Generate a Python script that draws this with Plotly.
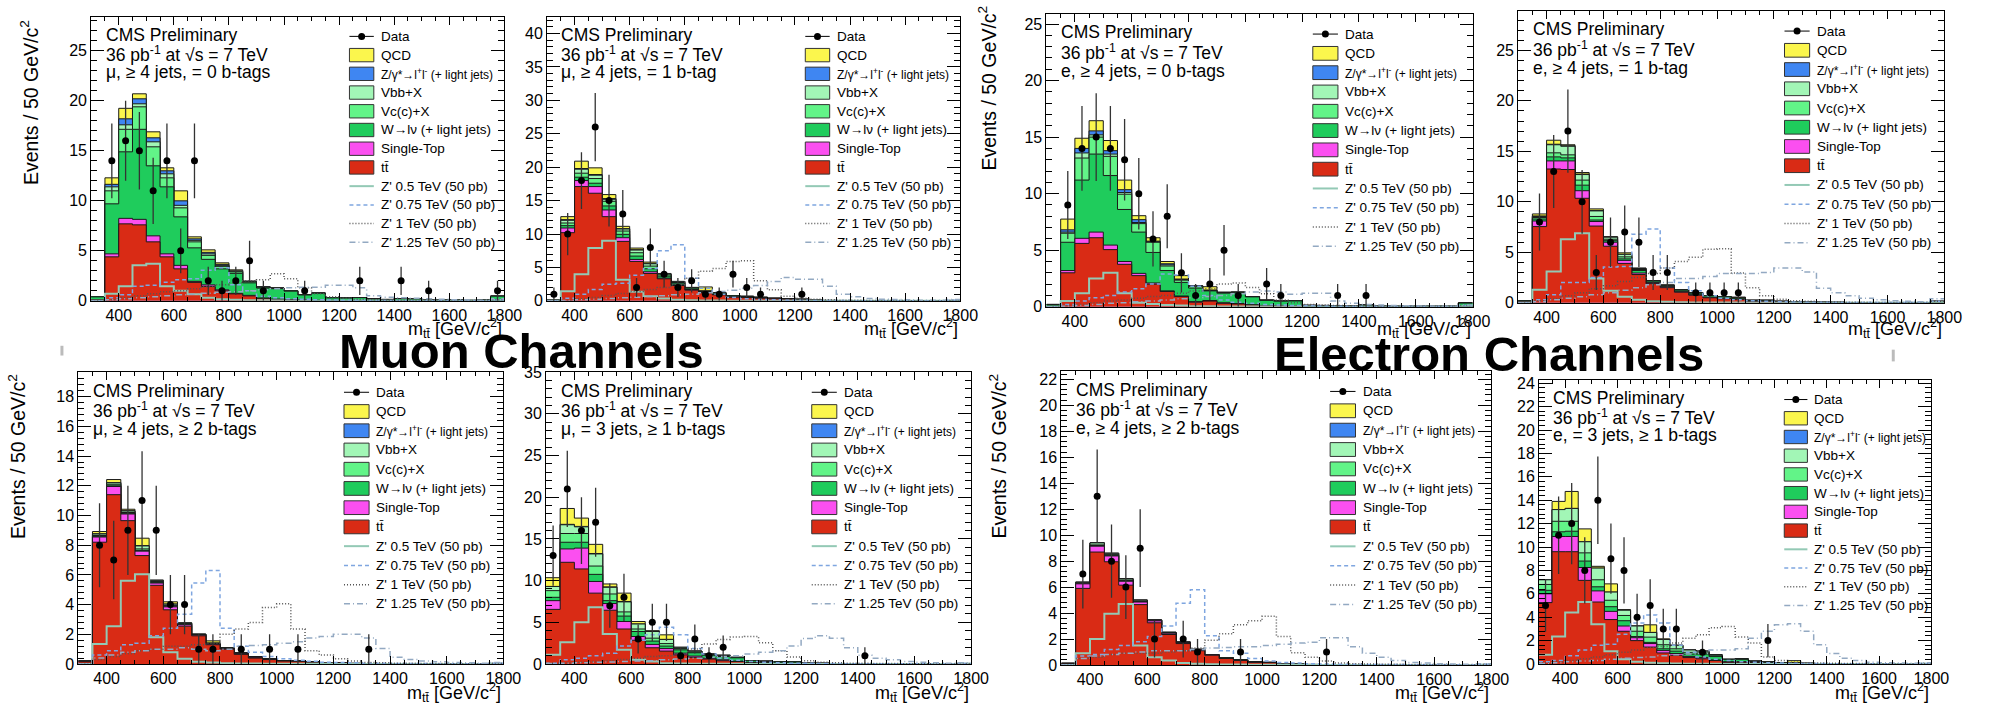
import math
import numpy as np
import plotly.graph_objects as go

# ---------------- binning ----------------
bin_edges = list(range(300, 1801, 50))            # 31 edges, 30 bins of 50 GeV
bin_centers = [e + 25 for e in bin_edges[:-1]]

# ---------------- panel 1 : mu, >=4 jets, =0 b-tags ----------------
mu0b_tt = [0.1, 4.4, 7.7, 7.6, 5.9, 4.4, 3.2, 1.85, 1.45, 1.0, 0.7, 0.5, 0.25, 0.15, 0.1, 0.08, 0.05, 0.04, 0.03, 0.03, 0.02, 0.02, 0.02, 0.01, 0.01, 0.01, 0.01, 0.01, 0.01, 0.02]
mu0b_st = [0.0, 0.3, 0.55, 0.55, 0.6, 0.3, 0.35, 0.1, 0.15, 0.1, 0.05, 0.05, 0.03, 0.02, 0.02, 0.01, 0.01, 0.01, 0, 0, 0, 0, 0, 0, 0, 0, 0, 0, 0, 0]
mu0b_wj = [0.3, 5.0, 6.65, 9.0, 7.0, 6.7, 4.85, 3.35, 2.55, 2.1, 2.0, 1.25, 1.0, 1.05, 0.85, 0.5, 0.7, 0.25, 0.25, 0.3, 0.17, 0.12, 0.2, 0.17, 0.08, 0.08, 0.08, 0.04, 0.08, 0.45]
mu0b_vc = [0, 1.3, 2.25, 2.25, 1.9, 0.9, 0.9, 0.6, 0.4, 0.25, 0.15, 0.1, 0.08, 0.05, 0.03, 0.02, 0.02, 0.01, 0, 0, 0, 0, 0, 0, 0, 0, 0, 0, 0, 0]
mu0b_vbb = [0, 0.4, 0.45, 0.3, 0.5, 0.4, 0.25, 0.15, 0.15, 0.1, 0.05, 0.03, 0.02, 0.01, 0, 0, 0, 0, 0, 0, 0, 0, 0, 0, 0, 0, 0, 0, 0, 0]
mu0b_zj = [0, 0.25, 0.6, 0.5, 0.4, 0.3, 0.45, 0.15, 0.15, 0.1, 0.05, 0.03, 0.02, 0.01, 0, 0, 0, 0, 0, 0, 0, 0, 0, 0, 0, 0, 0, 0, 0, 0]
mu0b_qcd = [0, 0.65, 1.05, 0.5, 0.6, 0.3, 1.0, 0.2, 0.25, 0.15, 0.1, 0.02, 0, 0, 0, 0, 0, 0, 0, 0, 0, 0, 0, 0, 0, 0, 0, 0, 0, 0]
mu0b_data = [0, 14, 16, 15, 11, 14, 5, 14, 2, 1, 2, 4, 1, 0, 0, 1, 0, 0, 0, 2, 0, 0, 2, 0, 1, 0, 0, 0, 0, 1]
mu0b_z05 = [0, 0.7, 1.45, 3.55, 3.7, 1.45, 1.0, 0.65, 0.3, 0.15, 0.1, 0.05, 0.05, 0.03, 0.02, 0.02, 0.01, 0.01, 0.01, 0.01, 0, 0, 0, 0, 0, 0, 0, 0, 0, 0.05]
mu0b_z075 = [0, 0.3, 0.6, 1.45, 1.55, 1.85, 2.1, 2.2, 3.05, 3.3, 1.6, 1.0, 0.45, 0.3, 0.2, 0.15, 0.1, 0.08, 0.06, 0.05, 0.04, 0.03, 0.03, 0.02, 0.02, 0.02, 0.02, 0.01, 0.01, 0.1]
mu0b_z1 = [0, 0.1, 0.3, 0.5, 0.7, 0.9, 1.0, 1.2, 1.4, 1.6, 1.8, 2.0, 2.1, 2.7, 2.2, 1.3, 0.7, 0.4, 0.25, 0.15, 0.1, 0.07, 0.05, 0.04, 0.03, 0.02, 0.02, 0.02, 0.01, 0.1]
mu0b_z125 = [0, 0.1, 0.2, 0.3, 0.4, 0.5, 0.6, 0.65, 0.75, 0.85, 0.9, 1.0, 1.1, 1.2, 1.3, 1.35, 1.35, 1.55, 1.55, 1.3, 0.5, 0.35, 0.3, 0.25, 0.2, 0.15, 0.1, 0.08, 0.06, 0.2]

# ---------------- panel 2 : mu, >=4 jets, =1 b-tag ----------------
mu1b_tt = [0.1, 10.2, 17.1, 16.1, 12.6, 8.9, 5.9, 4.1, 3.3, 2.3, 1.6, 1.2, 0.9, 0.55, 0.5, 0.4, 0.3, 0.25, 0.2, 0.08, 0.05, 0.04, 0.03, 0.03, 0.02, 0.02, 0.02, 0.01, 0.01, 0.02]
mu1b_st = [0, 0.7, 0.9, 1.0, 1.0, 0.55, 0.3, 0.25, 0.1, 0.1, 0.1, 0.05, 0.05, 0.05, 0.03, 0.02, 0.02, 0.01, 0.01, 0, 0, 0, 0, 0, 0, 0, 0, 0, 0, 0]
mu1b_wj = [0, 0.35, 0.5, 0.5, 0.6, 0.5, 0.5, 0.45, 0.3, 0.25, 0.2, 0.15, 0.2, 0.15, 0.12, 0.1, 0.06, 0.03, 0.03, 0.02, 0.01, 0.01, 0.01, 0.01, 0, 0, 0, 0, 0, 0.02]
mu1b_vc = [0, 0.4, 0.6, 0.7, 0.7, 0.5, 0.5, 0.4, 0.2, 0.1, 0.05, 0.05, 0.02, 0.02, 0.02, 0.01, 0.01, 0, 0, 0, 0, 0, 0, 0, 0, 0, 0, 0, 0, 0]
mu1b_vbb = [0, 0.4, 0.6, 0.5, 0.3, 0.3, 0.4, 0.35, 0.15, 0.1, 0.05, 0.02, 0.02, 0.01, 0.01, 0, 0, 0, 0, 0, 0, 0, 0, 0, 0, 0, 0, 0, 0, 0]
mu1b_zj = [0, 0.1, 0.1, 0.1, 0.1, 0.05, 0.05, 0.05, 0.02, 0.02, 0.01, 0.01, 0, 0, 0, 0, 0, 0, 0, 0, 0, 0, 0, 0, 0, 0, 0, 0, 0, 0]
mu1b_qcd = [0, 0.45, 1.1, 1.0, 0.6, 0.35, 0.25, 0.2, 0.03, 0.05, 0.0, 0.6, 0.05, 0, 0, 0, 0, 0, 0, 0, 0, 0, 0, 0, 0, 0, 0, 0, 0, 0]
mu1b_data = [1, 10, 18, 26, 15, 13, 2, 8, 4, 2, 3, 1, 1, 4, 2, 1, 0, 0, 1, 0, 0, 0, 0, 0, 0, 0, 0, 0, 0, 0]
mu1b_z05 = [0, 1.45, 4.0, 7.9, 9.0, 3.15, 1.35, 0.7, 0.35, 0.15, 0.1, 0.06, 0.04, 0.03, 0.02, 0.02, 0.01, 0.01, 0.01, 0.01, 0, 0, 0, 0, 0, 0, 0, 0, 0, 0.03]
mu1b_z075 = [0, 0.4, 1.0, 1.7, 2.5, 2.65, 3.85, 4.85, 7.5, 8.4, 3.4, 1.9, 1.0, 0.5, 0.3, 0.2, 0.15, 0.1, 0.08, 0.06, 0.05, 0.04, 0.03, 0.03, 0.02, 0.02, 0.02, 0.01, 0.01, 0.1]
mu1b_z1 = [0, 0.1, 0.3, 0.5, 0.8, 1.1, 1.4, 1.7, 2.0, 2.4, 3.4, 4.45, 4.85, 5.9, 6.0, 3.0, 1.65, 0.7, 0.4, 0.25, 0.15, 0.1, 0.08, 0.06, 0.05, 0.04, 0.03, 0.02, 0.02, 0.1]
mu1b_z125 = [0, 0.05, 0.15, 0.25, 0.35, 0.45, 0.55, 0.65, 0.75, 0.9, 1.0, 1.2, 1.4, 1.6, 1.9, 2.3, 2.9, 3.5, 3.25, 3.25, 2.2, 1.0, 0.6, 0.35, 0.25, 0.2, 0.15, 0.1, 0.08, 0.2]

# ---------------- panel 3 : e, >=4 jets, =0 b-tags ----------------
e0b_tt = [0.05, 3.0, 5.6, 6.1, 5.05, 3.75, 2.75, 2.0, 1.35, 0.9, 0.4, 0.5, 0.3, 0.25, 0.15, 0.1, 0.08, 0.06, 0.04, 0.03, 0.02, 0.02, 0.02, 0.01, 0.01, 0.01, 0.01, 0.01, 0.01, 0.02]
e0b_st = [0, 0.2, 0.45, 0.5, 0.4, 0.25, 0.2, 0.1, 0.05, 0.05, 0.05, 0.05, 0.05, 0.03, 0.02, 0.01, 0.01, 0, 0, 0, 0, 0, 0, 0, 0, 0, 0, 0, 0, 0]
e0b_wj = [0.15, 2.5, 5.15, 6.9, 6.15, 4.6, 3.65, 2.7, 1.8, 1.2, 1.2, 0.85, 0.85, 0.95, 0.7, 0.45, 0.4, 0.45, 0.08, 0.08, 0.08, 0.04, 0.12, 0.04, 0.03, 0.03, 0.03, 0.03, 0.03, 0.3]
e0b_vc = [0, 0.8, 1.95, 1.5, 1.7, 1.35, 0.75, 0.9, 0.4, 0.2, 0.15, 0.03, 0.05, 0.05, 0.03, 0.02, 0.01, 0.01, 0, 0, 0, 0, 0, 0, 0, 0, 0, 0, 0, 0]
e0b_vbb = [0, 0.1, 0.45, 0.2, 0.2, 0.15, 0.1, 0.05, 0.1, 0.05, 0.03, 0.02, 0.01, 0, 0, 0, 0, 0, 0, 0, 0, 0, 0, 0, 0, 0, 0, 0, 0, 0]
e0b_zj = [0, 0.2, 0.4, 0.35, 0.3, 0.25, 0.25, 0.05, 0.1, 0.05, 0.02, 0.02, 0.02, 0.01, 0, 0, 0, 0, 0, 0, 0, 0, 0, 0, 0, 0, 0, 0, 0, 0]
e0b_qcd = [0, 0.95, 0.9, 0.9, 0.9, 0.85, 0.35, 0.3, 0.2, 0.3, 0.0, 0.3, 0.0, 0.01, 0, 0, 0, 0, 0, 0, 0, 0, 0, 0, 0, 0, 0, 0, 0, 0.05]
e0b_data = [0, 9, 14, 15, 14, 13, 10, 6, 8, 3, 1, 2, 5, 1, 0, 2, 1, 0, 0, 0, 1, 0, 1, 0, 0, 0, 0, 0, 0, 0]
e0b_z05 = [0, 0.5, 1.2, 2.5, 3.0, 1.2, 0.35, 0.25, 0.15, 0.1, 0.05, 0.04, 0.03, 0.02, 0.02, 0.01, 0.01, 0.01, 0.01, 0, 0, 0, 0, 0, 0, 0, 0, 0, 0, 0.05]
e0b_z075 = [0, 0.2, 0.5, 0.8, 1.0, 1.3, 1.6, 2.0, 2.9, 2.8, 1.8, 1.0, 0.6, 0.4, 0.3, 0.2, 0.15, 0.1, 0.08, 0.06, 0.05, 0.04, 0.03, 0.03, 0.02, 0.02, 0.02, 0.01, 0.01, 0.1]
e0b_z1 = [0, 0.1, 0.2, 0.35, 0.5, 0.6, 0.75, 0.9, 1.0, 1.2, 1.4, 1.6, 2.0, 2.1, 1.7, 1.15, 0.6, 0.35, 0.2, 0.15, 0.1, 0.08, 0.06, 0.05, 0.04, 0.03, 0.02, 0.02, 0.02, 0.1]
e0b_z125 = [0, 0.05, 0.1, 0.2, 0.3, 0.35, 0.45, 0.5, 0.6, 0.7, 0.8, 0.9, 1.0, 1.15, 1.3, 1.4, 1.3, 1.1, 1.2, 1.2, 0.5, 0.3, 0.2, 0.15, 0.1, 0.08, 0.06, 0.05, 0.04, 0.15]

# ---------------- panel 4 : e, >=4 jets, =1 b-tag ----------------
e1b_tt = [0.1, 7.55, 13.25, 13.2, 10.35, 7.6, 5.6, 3.9, 2.8, 1.9, 1.5, 1.05, 0.75, 0.5, 0.4, 0.35, 0.15, 0.15, 0.1, 0.07, 0.05, 0.04, 0.03, 0.02, 0.02, 0.02, 0.01, 0.01, 0.01, 0.05]
e1b_st = [0.05, 0.55, 0.8, 0.85, 0.75, 0.45, 0.4, 0.3, 0.15, 0.1, 0.1, 0.05, 0.05, 0.05, 0.05, 0.02, 0.02, 0.02, 0.01, 0, 0, 0, 0, 0, 0, 0, 0, 0, 0, 0]
e1b_wj = [0.05, 0.2, 0.4, 0.3, 0.55, 0.15, 0.15, 0.15, 0.25, 0.15, 0.1, 0.15, 0.15, 0.15, 0.15, 0.1, 0.08, 0.08, 0.04, 0.03, 0.02, 0.02, 0.02, 0.01, 0.01, 0.01, 0.01, 0.01, 0.01, 0.1]
e1b_vc = [0, 0.15, 0.4, 0.3, 0.5, 0.35, 0.15, 0.2, 0.1, 0.05, 0.05, 0.05, 0.05, 0, 0, 0, 0, 0, 0, 0, 0, 0, 0, 0, 0, 0, 0, 0, 0, 0]
e1b_vbb = [0, 0.1, 0.8, 0.85, 0.55, 0.55, 0.2, 0.25, 0.1, 0.0, 0, 0, 0, 0, 0, 0, 0, 0, 0, 0, 0, 0, 0, 0, 0, 0, 0, 0, 0, 0]
e1b_zj = [0, 0.05, 0.05, 0.05, 0.05, 0.05, 0, 0, 0, 0, 0, 0, 0, 0, 0, 0, 0, 0, 0, 0, 0, 0, 0, 0, 0, 0, 0, 0, 0, 0]
e1b_qcd = [0, 0.2, 0.4, 0.1, 0.15, 0.15, 0.05, 0.15, 0.05, 0, 0, 0, 0, 0, 0, 0.1, 0, 0, 0, 0, 0, 0, 0, 0, 0, 0, 0, 0, 0, 0]
e1b_data = [0, 8, 13, 17, 10, 3, 6, 7, 6, 3, 3, 0, 1, 1, 1, 1, 0, 0, 0, 0, 0, 0, 0, 0, 0, 0, 0, 0, 0, 0]
e1b_z05 = [0, 1.3, 3.1, 6.3, 6.9, 2.4, 1.2, 0.6, 0.3, 0.15, 0.1, 0.06, 0.04, 0.03, 0.02, 0.02, 0.01, 0.01, 0.01, 0, 0, 0, 0, 0, 0, 0, 0, 0, 0, 0.05]
e1b_z075 = [0, 0.3, 0.8, 2.0, 2.0, 2.5, 3.55, 3.6, 6.8, 7.3, 3.45, 2.0, 1.2, 0.7, 0.45, 0.3, 0.2, 0.15, 0.1, 0.08, 0.06, 0.05, 0.04, 0.03, 0.03, 0.02, 0.02, 0.02, 0.01, 0.15]
e1b_z1 = [0, 0.2, 0.4, 0.7, 1.0, 1.4, 1.7, 2.1, 2.5, 2.9, 3.45, 4.1, 4.5, 5.3, 5.35, 2.95, 1.5, 0.7, 0.35, 0.2, 0.15, 0.1, 0.08, 0.06, 0.05, 0.04, 0.03, 0.02, 0.02, 0.15]
e1b_z125 = [0, 0.1, 0.3, 0.45, 0.6, 0.8, 1.0, 1.25, 1.5, 1.8, 2.0, 2.4, 2.4, 2.6, 2.9, 2.9, 2.9, 3.0, 3.45, 3.45, 3.05, 1.45, 1.0, 0.7, 0.45, 0.3, 0.2, 0.15, 0.1, 0.4]

# ---------------- panel 5 : mu, >=4 jets, >=2 b-tags ----------------
mu2b_tt = [0.15, 8.2, 11.4, 9.65, 7.3, 5.3, 3.65, 2.55, 1.9, 1.3, 1.0, 0.65, 0.4, 0.3, 0.2, 0.18, 0.12, 0.08, 0.08, 0.04, 0.02, 0.02, 0.02, 0.01, 0.01, 0.01, 0.01, 0.01, 0.01, 0.02]
mu2b_st = [0.03, 0.35, 0.55, 0.45, 0.3, 0.15, 0.2, 0.1, 0.05, 0.05, 0.05, 0.05, 0.05, 0.03, 0.01, 0.01, 0.01, 0, 0, 0, 0, 0, 0, 0, 0, 0, 0, 0, 0, 0]
mu2b_wj = [0.02, 0.05, 0.05, 0.05, 0.05, 0.05, 0.05, 0.05, 0.03, 0.03, 0.03, 0.03, 0.03, 0.01, 0.01, 0.01, 0.01, 0.01, 0.01, 0, 0, 0, 0, 0, 0, 0, 0, 0, 0, 0]
mu2b_vc = [0, 0.05, 0.1, 0.05, 0.1, 0.05, 0.03, 0.02, 0.01, 0.01, 0.01, 0.01, 0, 0, 0, 0, 0, 0, 0, 0, 0, 0, 0, 0, 0, 0, 0, 0, 0, 0]
mu2b_vbb = [0, 0.1, 0.1, 0.1, 0.2, 0.05, 0.1, 0.05, 0.02, 0.02, 0.01, 0.01, 0, 0, 0, 0, 0, 0, 0, 0, 0, 0, 0, 0, 0, 0, 0, 0, 0, 0]
mu2b_zj = [0, 0.02, 0.02, 0.02, 0.02, 0.01, 0.01, 0, 0, 0, 0, 0, 0, 0, 0, 0, 0, 0, 0, 0, 0, 0, 0, 0, 0, 0, 0, 0, 0, 0]
mu2b_qcd = [0, 0.15, 0.2, 0.1, 0.5, 0.05, 0.15, 0.0, 0.0, 0.15, 0, 0, 0, 0, 0, 0, 0, 0, 0, 0, 0, 0, 0, 0, 0, 0, 0, 0, 0, 0]
mu2b_data = [0, 8, 7, 9, 11, 9, 4, 4, 1, 1, 0, 1, 0, 1, 0, 1, 0, 0, 0, 0, 1, 0, 0, 0, 0, 0, 0, 0, 0, 0]
mu2b_z05 = [0, 1.35, 2.55, 5.6, 6.05, 1.8, 0.8, 0.35, 0.15, 0.1, 0.06, 0.04, 0.03, 0.02, 0.02, 0.01, 0.01, 0.01, 0, 0, 0, 0, 0, 0, 0, 0, 0, 0, 0, 0.02]
mu2b_z075 = [0, 0.6, 0.9, 1.3, 1.4, 1.9, 2.4, 3.35, 5.45, 6.3, 2.4, 1.2, 0.8, 0.5, 0.35, 0.25, 0.18, 0.12, 0.1, 0.08, 0.06, 0.05, 0.04, 0.03, 0.03, 0.02, 0.02, 0.02, 0.01, 0.05]
mu2b_z1 = [0, 0.3, 0.5, 0.7, 0.9, 1.0, 1.2, 1.2, 1.3, 1.4, 2.0, 2.35, 2.8, 3.8, 4.05, 2.35, 0.9, 0.6, 0.35, 0.2, 0.1, 0.08, 0.06, 0.05, 0.04, 0.03, 0.02, 0.02, 0.02, 0.05]
mu2b_z125 = [0, 0.4, 0.6, 0.8, 0.9, 1.0, 1.0, 1.1, 1.0, 0.9, 1.0, 1.2, 1.25, 1.3, 1.4, 1.5, 1.75, 1.85, 2.0, 2.0, 1.75, 1.05, 0.45, 0.3, 0.2, 0.15, 0.1, 0.08, 0.06, 0.1]

# ---------------- panel 6 : mu, =3 jets, >=1 b-tags ----------------
mu3j_tt = [6.55, 12.2, 11.4, 8.5, 6.45, 4.2, 2.85, 1.95, 1.55, 1.1, 0.8, 0.6, 0.4, 0.3, 0.15, 0.12, 0.1, 0.1, 0.04, 0.04, 0.02, 0.01, 0.01, 0.01, 0.01, 0.01, 0.01, 0.01, 0.01, 0.01]
mu3j_st = [1.05, 1.6, 2.5, 1.4, 0.8, 0.9, 0.45, 0.4, 0.3, 0.2, 0.15, 0.1, 0.1, 0.05, 0.05, 0.03, 0.02, 0.02, 0.01, 0, 0, 0, 0, 0, 0, 0, 0, 0, 0, 0]
mu3j_wj = [0.4, 0.8, 0.7, 0.85, 0.35, 0.65, 0.6, 0.4, 0.3, 0.4, 0.4, 0.35, 0.4, 0.4, 0.2, 0.15, 0.15, 0.15, 0.05, 0.05, 0.02, 0.02, 0.02, 0.01, 0.01, 0.01, 0.01, 0.01, 0.01, 0.02]
mu3j_vc = [0.8, 1.05, 1.05, 1.0, 0.8, 0.5, 0.3, 0.35, 0.3, 0.15, 0.1, 0.1, 0.1, 0.05, 0.0, 0.03, 0.02, 0.02, 0, 0, 0, 0, 0, 0, 0, 0, 0, 0, 0, 0]
mu3j_vbb = [0.5, 1.05, 0.8, 1.45, 0.8, 1.2, 0.6, 0.8, 0.5, 0.15, 0.1, 0.05, 0.05, 0.0, 0, 0.02, 0.01, 0.01, 0, 0, 0, 0, 0, 0, 0, 0, 0, 0, 0, 0]
mu3j_zj = [0.0, 0.05, 0.05, 0.05, 0.05, 0.05, 0, 0, 0, 0, 0, 0, 0, 0, 0, 0, 0, 0, 0, 0, 0, 0, 0, 0, 0, 0, 0, 0, 0, 0]
mu3j_qcd = [1.05, 1.9, 1.0, 1.1, 0.35, 1.0, 0.3, 0.1, 0.55, 0.0, 0, 0, 0, 0, 0, 0, 0, 0, 0, 0, 0, 0, 0, 0, 0, 0, 0, 0, 0, 0]
mu3j_data = [13, 21, 16, 17, 7, 8, 3, 5, 5, 1, 3, 1, 2, 0, 0, 0, 0, 0, 0, 0, 0, 0, 1, 0, 0, 0, 0, 0, 0, 0]
mu3j_z05 = [1.1, 2.6, 5.0, 6.8, 3.6, 1.7, 0.5, 0.3, 0.1, 0.06, 0.04, 0.03, 0.02, 0.02, 0.01, 0.01, 0, 0, 0, 0, 0, 0, 0, 0, 0, 0, 0, 0, 0, 0.02]
mu3j_z075 = [0.1, 0.5, 0.7, 1.0, 1.3, 2.15, 2.85, 3.5, 4.4, 3.5, 1.85, 1.2, 0.7, 0.45, 0.3, 0.2, 0.15, 0.1, 0.08, 0.06, 0.05, 0.04, 0.03, 0.03, 0.02, 0.02, 0.02, 0.01, 0.01, 0.05]
mu3j_z1 = [0.1, 0.15, 0.2, 0.3, 0.4, 0.55, 0.7, 0.9, 1.0, 1.3, 1.8, 2.4, 2.95, 3.25, 3.3, 2.55, 1.6, 0.85, 0.4, 0.2, 0.15, 0.1, 0.08, 0.06, 0.05, 0.04, 0.03, 0.02, 0.02, 0.05]
mu3j_z125 = [0.05, 0.1, 0.15, 0.2, 0.25, 0.3, 0.35, 0.4, 0.5, 0.6, 0.7, 0.8, 0.9, 1.0, 1.2, 1.4, 1.6, 2.15, 3.05, 3.4, 3.1, 1.95, 1.05, 0.7, 0.5, 0.3, 0.2, 0.15, 0.1, 0.15]

# ---------------- panel 7 : e, >=4 jets, >=2 b-tags ----------------
e2b_tt = [0.1, 5.9, 8.7, 7.95, 6.15, 4.65, 3.25, 2.35, 1.65, 1.1, 0.75, 0.5, 0.35, 0.2, 0.18, 0.1, 0.08, 0.04, 0.03, 0.02, 0.02, 0.01, 0.01, 0.01, 0.01, 0.01, 0.01, 0.01, 0.01, 0.02]
e2b_st = [0.02, 0.35, 0.45, 0.45, 0.3, 0.2, 0.15, 0.1, 0.07, 0.07, 0.04, 0.04, 0.04, 0.04, 0.02, 0, 0, 0, 0, 0, 0, 0, 0, 0, 0, 0, 0, 0, 0, 0]
e2b_wj = [0.01, 0.02, 0.05, 0.05, 0.05, 0.05, 0.03, 0.03, 0.02, 0.02, 0.01, 0.01, 0.01, 0.01, 0, 0, 0, 0, 0, 0, 0, 0, 0, 0, 0, 0, 0, 0, 0, 0]
e2b_vc = [0, 0.05, 0.05, 0.05, 0.05, 0.03, 0.02, 0.02, 0.01, 0.01, 0, 0, 0, 0, 0, 0, 0, 0, 0, 0, 0, 0, 0, 0, 0, 0, 0, 0, 0, 0]
e2b_vbb = [0, 0.05, 0.15, 0.1, 0.1, 0.07, 0.02, 0.02, 0.02, 0.01, 0, 0, 0, 0, 0, 0, 0, 0, 0, 0, 0, 0, 0, 0, 0, 0, 0, 0, 0, 0]
e2b_zj = [0, 0.01, 0.01, 0.01, 0.01, 0, 0, 0, 0, 0, 0, 0, 0, 0, 0, 0, 0, 0, 0, 0, 0, 0, 0, 0, 0, 0, 0, 0, 0, 0]
e2b_qcd = [0, 0, 0, 0, 0, 0, 0, 0, 0, 0, 0, 0, 0, 0, 0, 0, 0, 0, 0, 0, 0, 0, 0, 0, 0, 0, 0, 0, 0, 0]
e2b_data = [0, 7, 13, 8, 6, 9, 2, 0, 2, 1, 0, 0, 1, 0, 0, 0, 0, 0, 1, 0, 0, 0, 0, 0, 0, 0, 0, 0, 0, 0]
e2b_z05 = [0, 0.9, 2.0, 3.95, 4.7, 1.5, 0.6, 0.35, 0.15, 0.1, 0.05, 0.04, 0.03, 0.02, 0.02, 0.01, 0.01, 0, 0, 0, 0, 0, 0, 0, 0, 0, 0, 0, 0, 0.02]
e2b_z075 = [0, 0.7, 0.8, 1.2, 1.5, 1.8, 2.2, 3.0, 4.75, 5.8, 2.25, 1.1, 0.9, 0.5, 0.3, 0.2, 0.15, 0.1, 0.08, 0.06, 0.05, 0.04, 0.03, 0.03, 0.02, 0.02, 0.02, 0.01, 0.01, 0.05]
e2b_z1 = [0, 0.5, 0.6, 0.8, 0.9, 0.9, 0.9, 1.0, 1.1, 1.3, 1.9, 2.4, 3.1, 3.4, 3.75, 2.2, 0.95, 0.6, 0.3, 0.15, 0.1, 0.08, 0.06, 0.05, 0.04, 0.03, 0.03, 0.02, 0.02, 0.05]
e2b_z125 = [0, 0.5, 0.7, 0.8, 0.9, 1.0, 1.1, 1.1, 1.1, 1.2, 1.3, 1.35, 1.4, 1.4, 1.5, 1.6, 1.7, 1.75, 2.1, 2.1, 1.4, 0.9, 0.6, 0.35, 0.2, 0.15, 0.1, 0.08, 0.06, 0.1]

# ---------------- panel 8 : e, =3 jets, >=1 b-tags ----------------
e3j_tt = [5.25, 9.6, 9.6, 7.15, 5.3, 3.8, 2.8, 2.0, 1.45, 0.95, 0.75, 0.55, 0.45, 0.3, 0.15, 0.15, 0.1, 0.08, 0.05, 0.05, 0.03, 0.02, 0.02, 0.01, 0.01, 0.01, 0.01, 0.01, 0.01, 0.01]
e3j_st = [0.75, 1.3, 1.3, 1.1, 0.95, 0.7, 0.45, 0.25, 0.3, 0.2, 0.15, 0.1, 0.1, 0.05, 0.05, 0.05, 0.02, 0.02, 0.01, 0.01, 0, 0, 0, 0, 0, 0, 0, 0, 0, 0]
e3j_wj = [0.3, 0.4, 0.45, 0.55, 0.35, 0.4, 0.45, 0.1, 0.1, 0.15, 0.2, 0.2, 0.3, 0.3, 0.2, 0.2, 0.1, 0.08, 0.03, 0.03, 0.03, 0.02, 0.02, 0.01, 0.01, 0.01, 0.01, 0.01, 0.01, 0.01]
e3j_vc = [0.5, 0.9, 0.85, 0.7, 0.6, 0.55, 0.45, 0.45, 0.45, 0.35, 0.2, 0.15, 0.1, 0.1, 0, 0.03, 0.02, 0.01, 0.01, 0, 0, 0, 0, 0, 0, 0, 0, 0, 0, 0]
e3j_vbb = [0.4, 1.0, 1.1, 0.95, 1.0, 0.7, 0.45, 0.45, 0.4, 0.45, 0.3, 0.2, 0.15, 0.05, 0, 0.02, 0.01, 0.01, 0, 0, 0, 0, 0, 0, 0, 0, 0, 0, 0, 0]
e3j_zj = [0, 0, 0, 0, 0, 0, 0, 0, 0, 0, 0, 0, 0, 0, 0, 0, 0, 0, 0, 0, 0, 0, 0, 0, 0, 0, 0, 0, 0, 0]
e3j_qcd = [0.0, 0.7, 1.45, 1.1, 0.15, 0.7, 0.05, 0.0, 0.65, 0.05, 0, 0, 0, 0, 0, 0, 0, 0, 0, 0.2, 0, 0, 0, 0, 0, 0, 0, 0, 0, 0]
e3j_data = [5, 11, 12, 8, 14, 9, 8, 4, 5, 3, 3, 0, 1, 0, 0, 0, 0, 2, 0, 0, 0, 0, 0, 0, 0, 0, 0, 0, 0, 0]
e3j_z05 = [0.8, 2.35, 4.4, 5.3, 3.4, 1.1, 0.4, 0.2, 0.1, 0.06, 0.04, 0.03, 0.02, 0.02, 0.01, 0.01, 0, 0, 0, 0, 0, 0, 0, 0, 0, 0, 0, 0, 0, 0.02]
e3j_z075 = [0.2, 0.3, 0.7, 1.2, 1.6, 1.7, 2.55, 3.5, 4.2, 3.5, 1.6, 1.0, 0.6, 0.4, 0.3, 0.2, 0.15, 0.1, 0.08, 0.06, 0.05, 0.04, 0.03, 0.03, 0.02, 0.02, 0.02, 0.01, 0.01, 0.05]
e3j_z1 = [0.1, 0.2, 0.3, 0.45, 0.6, 0.8, 1.0, 1.2, 1.4, 1.5, 1.8, 2.2, 2.5, 3.1, 3.2, 2.3, 1.8, 0.6, 0.3, 0.15, 0.1, 0.08, 0.06, 0.05, 0.04, 0.03, 0.02, 0.02, 0.02, 0.05]
e3j_z125 = [0.05, 0.1, 0.2, 0.25, 0.3, 0.4, 0.5, 0.55, 0.6, 0.7, 0.8, 0.85, 0.9, 1.2, 1.2, 1.3, 2.2, 2.8, 3.35, 3.45, 2.8, 1.65, 0.9, 0.5, 0.3, 0.15, 0.1, 0.08, 0.06, 0.1]

# ---------------- text ----------------
channel_labels = ["μ, ≥ 4 jets, = 0 b-tags", "μ, ≥ 4 jets, = 1 b-tag", "e, ≥ 4 jets, = 0 b-tags", "e, ≥ 4 jets, = 1 b-tag",
                  "μ, ≥ 4 jets, ≥ 2 b-tags", "μ, = 3 jets, ≥ 1 b-tags", "e, ≥ 4 jets, ≥ 2 b-tags", "e, = 3 jets, ≥ 1 b-tags"]
stack_names = ["tt̄", "Single-Top", "W→lν (+ light jets)", "Vc(c)+X", "Vbb+X", "Z/γ*→l<sup>+</sup>l<sup>-</sup> (+ light jets)", "QCD"]
zprime_names = ["Z' 0.5 TeV (50 pb)", "Z' 0.75 TeV (50 pb)", "Z' 1 TeV (50 pb)", "Z' 1.25 TeV (50 pb)"]

# ---------------- styles ----------------
FONT = "Liberation Sans, Arial, Helvetica, sans-serif"
stack_colors = ["#d92b15", "#fb4ff0", "#1fcc5c", "#62f488", "#a2f6b6", "#3f86f2", "#fbf64d"]
z_styles = [dict(color="#93c9b5", width=2, dash="solid"),
            dict(color="#7fa6e0", width=1.5, dash="4px,3px"),
            dict(color="#555555", width=1.5, dash="1px,2px"),
            dict(color="#93a9c2", width=1.5, dash="6px,3px,1px,3px")]
OUTLINE = "#1a1a1a"
HEAD_SIZE = 17.5
LEG_SIZE = 13.5
LEG_SIZE_LONG = 12   # the long Z/gamma* entry

W, H = 1995, 715
panels = [
    dict(box=(92, 9, 509, 300), ymax=28.4, dt=5, mdt=1,
         comps=[mu0b_tt, mu0b_st, mu0b_wj, mu0b_vc, mu0b_vbb, mu0b_zj, mu0b_qcd], data=mu0b_data,
         zp=[mu0b_z05, mu0b_z075, mu0b_z1, mu0b_z125]),
    dict(box=(552, 9, 969, 300), ymax=42.5, dt=5, mdt=1,
         comps=[mu1b_tt, mu1b_st, mu1b_wj, mu1b_vc, mu1b_vbb, mu1b_zj, mu1b_qcd], data=mu1b_data,
         zp=[mu1b_z05, mu1b_z075, mu1b_z1, mu1b_z125]),
    dict(box=(1056, 6, 1486, 306), ymax=25.9, dt=5, mdt=1,
         comps=[e0b_tt, e0b_st, e0b_wj, e0b_vc, e0b_vbb, e0b_zj, e0b_qcd], data=e0b_data,
         zp=[e0b_z05, e0b_z075, e0b_z1, e0b_z125]),
    dict(box=(1532, 3, 1962, 302), ymax=28.9, dt=5, mdt=1,
         comps=[e1b_tt, e1b_st, e1b_wj, e1b_vc, e1b_vbb, e1b_zj, e1b_qcd], data=e1b_data,
         zp=[e1b_z05, e1b_z075, e1b_z1, e1b_z125]),
    dict(box=(79, 373, 508, 672), ymax=19.65, dt=2, mdt=0.4,
         comps=[mu2b_tt, mu2b_st, mu2b_wj, mu2b_vc, mu2b_vbb, mu2b_zj, mu2b_qcd], data=mu2b_data,
         zp=[mu2b_z05, mu2b_z075, mu2b_z1, mu2b_z125]),
    dict(box=(551, 373, 980, 672), ymax=35.0, dt=5, mdt=1,
         comps=[mu3j_tt, mu3j_st, mu3j_wj, mu3j_vc, mu3j_vbb, mu3j_zj, mu3j_qcd], data=mu3j_data,
         zp=[mu3j_z05, mu3j_z075, mu3j_z1, mu3j_z125]),
    dict(box=(1071, 372, 1505, 673), ymax=22.63, dt=2, mdt=0.4,
         comps=[e2b_tt, e2b_st, e2b_wj, e2b_vc, e2b_vbb, e2b_zj, e2b_qcd], data=e2b_data,
         zp=[e2b_z05, e2b_z075, e2b_z1, e2b_z125]),
    dict(box=(1553, 381, 1949, 672), ymax=24.28, dt=2, mdt=0.4,
         comps=[e3j_tt, e3j_st, e3j_wj, e3j_vc, e3j_vbb, e3j_zj, e3j_qcd], data=e3j_data,
         zp=[e3j_z05, e3j_z075, e3j_z1, e3j_z125]),
]

fig = go.Figure()
layout = dict(width=W, height=H, margin=dict(l=0, r=0, t=0, b=0),
              paper_bgcolor="white", plot_bgcolor="white", showlegend=False,
              font=dict(family=FONT, color="black"))
shapes, annotations = [], []

def step(vals):
    return list(vals) + [vals[-1]]

for k, p in enumerate(panels, start=1):
    sfx = "" if k == 1 else str(k)
    xa, ya = "x" + sfx, "y" + sfx
    x0, y0, x1, y1 = p["box"]
    layout["xaxis" + sfx] = dict(
        domain=[x0 / W, x1 / W], anchor=ya, range=[300, 1800],
        showline=True, linecolor="black", linewidth=1, mirror="allticks",
        ticks="inside", ticklen=8, tickcolor="black", tick0=400, dtick=200,
        minor=dict(ticks="inside", ticklen=4, tick0=300, dtick=50, tickcolor="black", showgrid=False),
        showgrid=False, zeroline=False, tickfont=dict(size=16, family=FONT, color="black"))
    layout["yaxis" + sfx] = dict(
        domain=[1 - y1 / H, 1 - y0 / H], anchor=xa, range=[0, p["ymax"]],
        showline=True, linecolor="black", linewidth=1, mirror="allticks",
        ticks="inside", ticklen=13, tickcolor="black", tick0=0, dtick=p["dt"],
        minor=dict(ticks="inside", ticklen=6, tick0=0, dtick=p["mdt"], tickcolor="black", showgrid=False),
        showgrid=False, zeroline=False, tickfont=dict(size=16, family=FONT, color="black"))

    # stacked histogram, drawn from the top layer down (ROOT THStack style)
    cum = np.cumsum(np.array(p["comps"], dtype=float), axis=0)
    for i in range(len(p["comps"]) - 1, -1, -1):
        fig.add_trace(go.Scatter(
            x=bin_edges, y=step(cum[i]), mode="lines", xaxis=xa, yaxis=ya,
            line=dict(shape="hv", color=OUTLINE, width=1), fill="tozeroy",
            fillcolor=stack_colors[i], hoverinfo="skip"))

    # Z' signal templates
    for zi, zv in enumerate(p["zp"]):
        fig.add_trace(go.Scatter(
            x=bin_edges, y=step(zv), mode="lines", xaxis=xa, yaxis=ya,
            line=dict(shape="hv", **z_styles[zi]), hoverinfo="skip"))

    # data with Poisson errors
    dvals = p["data"]
    fig.add_trace(go.Scatter(
        x=bin_centers, y=[v if v > 0 else None for v in dvals], mode="markers",
        xaxis=xa, yaxis=ya, marker=dict(size=7, color="black"),
        error_y=dict(type="data", array=[math.sqrt(v) for v in dvals], thickness=1.3,
                     width=0, color="#333333"), hoverinfo="skip"))

    # ---- header text ----
    xd, yd = xa + " domain", ya + " domain"
    header = ["CMS Preliminary", "36 pb<sup>-1</sup> at √s = 7 TeV", channel_labels[k - 1]]
    for txt, fy in zip(header, [0.063, 0.13, 0.195]):
        annotations.append(dict(xref=xd, yref=yd, x=0.03, y=1 - fy, text=txt, showarrow=False,
                                xanchor="left", yanchor="middle", font=dict(size=HEAD_SIZE, family=FONT)))

    # ---- legend ----
    lx0, lx1, tx = 0.625, 0.684, 0.696
    row = lambda r: 1 - 0.069 - 0.0659 * r
    hh = 0.0235
    ry = row(0)
    shapes.append(dict(type="line", xref=xd, yref=yd, x0=lx0, x1=lx1, y0=ry, y1=ry,
                       line=dict(color="black", width=1)))
    shapes.append(dict(type="circle", xref=xd, yref=yd, xsizemode="pixel", ysizemode="pixel",
                       xanchor=(lx0 + lx1) / 2, yanchor=ry, x0=-3.5, x1=3.5, y0=-3.5, y1=3.5,
                       fillcolor="black", line=dict(color="black", width=0)))
    annotations.append(dict(xref=xd, yref=yd, x=tx, y=ry, text="Data", showarrow=False,
                            xanchor="left", yanchor="middle", font=dict(size=LEG_SIZE, family=FONT)))
    for r, ci in enumerate(range(len(stack_names) - 1, -1, -1), start=1):
        ry = row(r)
        fs = LEG_SIZE_LONG if ci == 5 else LEG_SIZE
        shapes.append(dict(type="rect", xref=xd, yref=yd, x0=lx0, x1=lx1, y0=ry - hh, y1=ry + hh,
                           fillcolor=stack_colors[ci], line=dict(color="#333333", width=1)))
        annotations.append(dict(xref=xd, yref=yd, x=tx, y=ry, text=stack_names[ci], showarrow=False,
                                xanchor="left", yanchor="middle", font=dict(size=fs, family=FONT)))
    for zi in range(4):
        ry = row(8 + zi)
        shapes.append(dict(type="line", xref=xd, yref=yd, x0=lx0, x1=lx1, y0=ry, y1=ry,
                           line=z_styles[zi]))
        annotations.append(dict(xref=xd, yref=yd, x=tx, y=ry, text=zprime_names[zi], showarrow=False,
                                xanchor="left", yanchor="middle", font=dict(size=LEG_SIZE, family=FONT)))

    # ---- x-axis title ----
    ty = 328 if y0 < 100 else 701
    annotations.append(dict(xref="paper", yref="paper", x=x1 / W, y=1 - ty / H,
                            text="m<sub>tt̄</sub> [GeV/c<sup>2</sup>]", showarrow=False,
                            xanchor="right", yanchor="middle", font=dict(size=18, family=FONT)))

# y-axis titles visible in the composite
for cx, top in [(30, 10), (996, -4), (16.5, 373), (1007, 372)]:
    annotations.append(dict(xref="paper", yref="paper", x=cx / W, y=1 - top / H,
                            text="Events / 50 GeV/c<sup>2</sup>", textangle=-90, showarrow=False,
                            xanchor="center", yanchor="top", font=dict(size=19.5, family=FONT)))

# big channel titles
annotations.append(dict(xref="paper", yref="paper", x=526.5 / W, y=1 - 351 / H, text="<b>Muon Channels</b>",
                        showarrow=False, xanchor="center", yanchor="middle", font=dict(size=49, family=FONT)))
annotations.append(dict(xref="paper", yref="paper", x=1503 / W, y=1 - 354 / H, text="<b>Electron Channels</b>",
                        showarrow=False, xanchor="center", yanchor="middle", font=dict(size=49, family=FONT)))

# small grey separator marks of the composite
for (mx0, my0, mx1, my1) in [(61, 346, 64, 356), (1909, 350, 1912, 362)]:
    shapes.append(dict(type="rect", xref="paper", yref="paper", x0=mx0 / W, x1=mx1 / W,
                       y0=1 - my1 / H, y1=1 - my0 / H, fillcolor="#bbbbbb", line=dict(width=0)))

layout["shapes"] = shapes
layout["annotations"] = annotations
fig.update_layout(**layout)
fig.write_html("out.html")
